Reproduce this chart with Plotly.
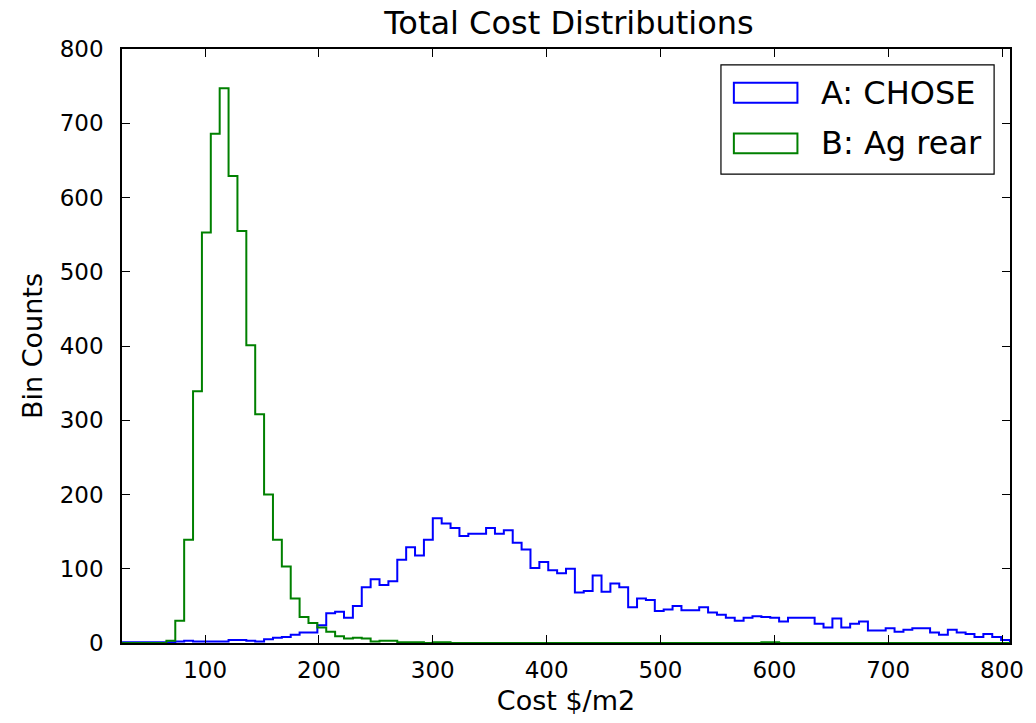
import numpy as np
import plotly.graph_objects as go

# Histogram definition
x_min = 27.0
x_max = 807.0
n_bins = 100

# Series A: CHOSE (bin counts, left to right)
counts_a = [1, 1, 1, 1, 1, 1, 2, 3, 2, 2, 2, 2, 4, 4, 3, 2, 5, 7, 8, 11,
            14, 14, 24, 40, 42, 34, 50, 75, 86, 78, 83, 112, 129, 118, 139, 168, 161, 155, 144, 147,
            147, 155, 147, 152, 135, 126, 101, 109, 98, 94, 100, 68, 70, 91, 69, 80, 75, 48, 60, 58,
            43, 45, 50, 44, 44, 48, 41, 38, 34, 30, 34, 36, 35, 34, 29, 34, 34, 34, 26, 21,
            33, 21, 26, 29, 17, 17, 20, 15, 18, 20, 20, 14, 11, 18, 14, 12, 8, 12, 8, 4]

# Series B: Ag rear (bin counts, left to right)
counts_b = [0, 0, 0, 0, 0, 3, 30, 139, 339, 553, 686, 747, 629, 555, 401, 308, 200, 139, 103, 60,
            35, 27, 21, 15, 9, 6, 7, 6, 2, 3, 3, 1, 1, 1, 0, 1, 1, 0, 0, 0,
            0, 0, 0, 0, 0, 0, 0, 0, 0, 0, 0, 0, 0, 0, 0, 0, 0, 0, 0, 0,
            0, 0, 0, 0, 0, 0, 0, 0, 0, 0, 0, 0, 1, 1, 0, 0, 0, 0, 0, 0,
            0, 0, 0, 0, 0, 0, 0, 0, 0, 0, 0, 0, 0, 0, 0, 0, 0, 0, 0, 0]

series_names = ["A: CHOSE", "B: Ag rear"]
series_colors = ["#0000ff", "#008000"]
x_ticks = [100, 200, 300, 400, 500, 600, 700, 800]
y_ticks = [0, 100, 200, 300, 400, 500, 600, 700, 800]

edges = np.linspace(x_min, x_max, n_bins + 1)

FONT = "DejaVu Sans"
W, H = 1036, 723
L, R, T, B = 122, 20, 49, 76

fig = go.Figure()
for counts, name, color in zip([counts_a, counts_b], series_names, series_colors):
    xs = [edges[0]] + list(edges)
    ys = [0] + list(counts) + [0]
    fig.add_trace(go.Scatter(x=xs, y=ys, mode="lines", name=name,
                             line=dict(color=color, width=2, shape="hv"),
                             showlegend=False, hoverinfo="skip"))

axis_common = dict(showline=True, linecolor="black", linewidth=1.5, mirror="ticks",
                   ticks="inside", ticklen=8, tickwidth=1, tickcolor="black",
                   showgrid=False, zeroline=False,
                   tickfont=dict(family=FONT, size=23, color="black"))

fig.update_xaxes(range=[x_min, x_max], tickvals=x_ticks, ticklabelstandoff=6,
                 title=dict(text="Cost $/m2", font=dict(family=FONT, size=27, color="black"), standoff=9),
                 **axis_common)
fig.update_yaxes(range=[0, 800], tickvals=y_ticks, ticklabelstandoff=12,
                 title=dict(text="Bin Counts", font=dict(family=FONT, size=27, color="black"), standoff=9),
                 **axis_common)

pw = W - L - R
ph = H - T - B


def px_x(px):
    return (px - L) / pw


def px_y(py):
    return 1 - (py - T) / ph


shapes = []
annotations = []
# legend frame
shapes.append(dict(type="rect", xref="paper", yref="paper",
                   x0=px_x(725), x1=px_x(1000), y0=px_y(175), y1=px_y(65),
                   line=dict(color="black", width=1.2), fillcolor="white", layer="above"))
legend_rows = [93, 144]
for name, color, cy in zip(series_names, series_colors, legend_rows):
    shapes.append(dict(type="rect", xref="paper", yref="paper",
                       x0=px_x(738), x1=px_x(802), y0=px_y(cy + 10), y1=px_y(cy - 10),
                       line=dict(color=color, width=2), fillcolor="rgba(0,0,0,0)", layer="above"))
    annotations.append(dict(xref="paper", yref="paper", x=px_x(824), y=px_y(cy),
                            xanchor="left", yanchor="middle", showarrow=False, text=name,
                            font=dict(family=FONT, size=32, color="black")))

fig.update_layout(
    width=W, height=H,
    margin=dict(l=L, r=R, t=T, b=B),
    paper_bgcolor="white", plot_bgcolor="white",
    title=dict(text="Total Cost Distributions", x=(L + pw / 2) / W, xanchor="center",
               y=1 - 23 / H, yanchor="middle", yref="container",
               font=dict(family=FONT, size=32, color="black")),
    shapes=shapes, annotations=annotations,
    showlegend=False,
)

fig.write_html("out.html")
